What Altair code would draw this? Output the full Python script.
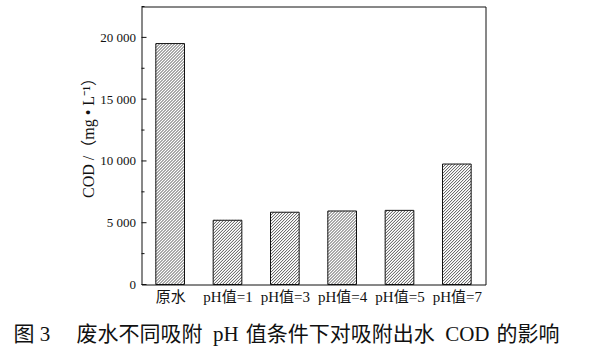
import json
import altair as alt
import pandas as pd

categories = ["原水", "pH值=1", "pH值=3", "pH值=4", "pH值=5", "pH值=7"]
cod_values = [19500, 5200, 5850, 5950, 6000, 9750]
major_ticks = [0, 5000, 10000, 15000, 20000]
minor_ticks = [2500, 7500, 12500, 17500, 22500]
y_title = "COD /（mg • L⁻¹）"
caption = "图 3\u3000 废水不同吸附\u2002pH\u2004值条件下对吸附出水\u2002COD\u2004的影响"

W, H = 344, 278
Y_MAX = 22500
X_MIN = -0.5
HALF = 0.25          # half bar width in category units
STEP_PX = 3.0        # hatch spacing in pixels
MAJOR_LEN, MINOR_LEN = 5.0, 3.0   # inward tick lengths in pixels
px_x = W / 6.0
px_y = H / Y_MAX
K = px_x / px_y      # y units per x unit for 45 degree lines
S = STEP_PX / px_x   # hatch step in x units

SERIF = '"Liberation Serif", "Noto Sans CJK SC", serif'

df = pd.DataFrame({"idx": list(range(len(categories))), "cat": categories, "cod": cod_values})
ticks_df = pd.DataFrame({
    "tv": major_ticks + minor_ticks,
    "kind": ["major"] * len(major_ticks) + ["minor"] * len(minor_ticks),
})

xscale = alt.Scale(domain=[X_MIN, 5.5], nice=False, zero=False)
yscale = alt.Scale(domain=[0, Y_MAX], nice=False)

label_expr = json.dumps(categories, ensure_ascii=False) + "[round(datum.value)]"

x_axis = alt.Axis(values=list(range(len(categories))), labelExpr=label_expr, ticks=False,
                  domain=False, grid=False, title=None, labelFont=SERIF, labelFontSize=15,
                  labelColor="#111", labelPadding=5)
y_axis = alt.Axis(values=major_ticks, ticks=False, domain=False, grid=False,
                  labelExpr="replace(format(datum.value, ',d'), ',', ' ')",
                  labelFont=SERIF, labelFontSize=13, labelColor="#111", labelPadding=6,
                  title=y_title, titleFont=SERIF, titleFontSize=16, titleY=127,
                  titleFontWeight="normal", titleColor="#111", titlePadding=3)

base = alt.Chart(df).transform_calculate(
    xl="datum.idx - %f" % HALF, xr="datum.idx + %f" % HALF
)

fill = base.mark_rect(fill="white").encode(
    x=alt.X("xl:Q", scale=xscale, axis=x_axis),
    x2="xr:Q",
    y=alt.Y("cod:Q", scale=yscale, axis=y_axis),
    y2=alt.datum(0),
)

hatch = base.transform_calculate(
    h="datum.cod / %f" % K,
).transform_calculate(
    cs="sequence(-%f + %f, datum.h, %f)" % (2 * HALF, S / 2, S)
).transform_flatten(["cs"]).transform_calculate(
    u0="max(0, -datum.cs)",
    u1="min(%f, datum.h - datum.cs)" % (2 * HALF),
).transform_calculate(
    hx0="datum.xl + datum.u0",
    hx1="datum.xl + datum.u1",
    hy0="(datum.u0 + datum.cs) * %f" % K,
    hy1="(datum.u1 + datum.cs) * %f" % K,
).mark_rule(color="#2a2a2a", strokeWidth=0.8).encode(
    x=alt.X("hx0:Q", scale=xscale, axis=x_axis),
    x2="hx1:Q",
    y=alt.Y("hy0:Q", scale=yscale, axis=y_axis),
    y2="hy1:Q",
)

outline = base.mark_rect(fill="white", fillOpacity=0, stroke="#111", strokeWidth=1).encode(
    x=alt.X("xl:Q", scale=xscale, axis=x_axis),
    x2="xr:Q",
    y=alt.Y("cod:Q", scale=yscale, axis=y_axis),
    y2=alt.datum(0),
)

tick_marks = alt.Chart(ticks_df).transform_calculate(
    tx0="%f" % X_MIN,
    tx1="%f + (datum.kind == 'major' ? %f : %f) / %f" % (X_MIN, MAJOR_LEN, MINOR_LEN, px_x),
).mark_rule(color="#111", strokeWidth=1).encode(
    x=alt.X("tx0:Q", scale=xscale, axis=x_axis),
    x2="tx1:Q",
    y=alt.Y("tv:Q", scale=yscale, axis=y_axis),
)

chart = alt.layer(fill, hatch, outline, tick_marks).properties(
    width=W, height=H,
    autosize=alt.AutoSizeParams(type="none"),
    padding={"left": 141.5, "top": 6.5, "right": 108, "bottom": 67},
    title=alt.TitleParams(caption, orient="bottom", anchor="middle", dx=-27, offset=19,
                          font=SERIF, fontSize=21, fontWeight="normal", color="#111"),
).configure_view(stroke="#111", strokeWidth=1)

chart.save("out.html", embed_options={"renderer": "svg", "actions": False})
